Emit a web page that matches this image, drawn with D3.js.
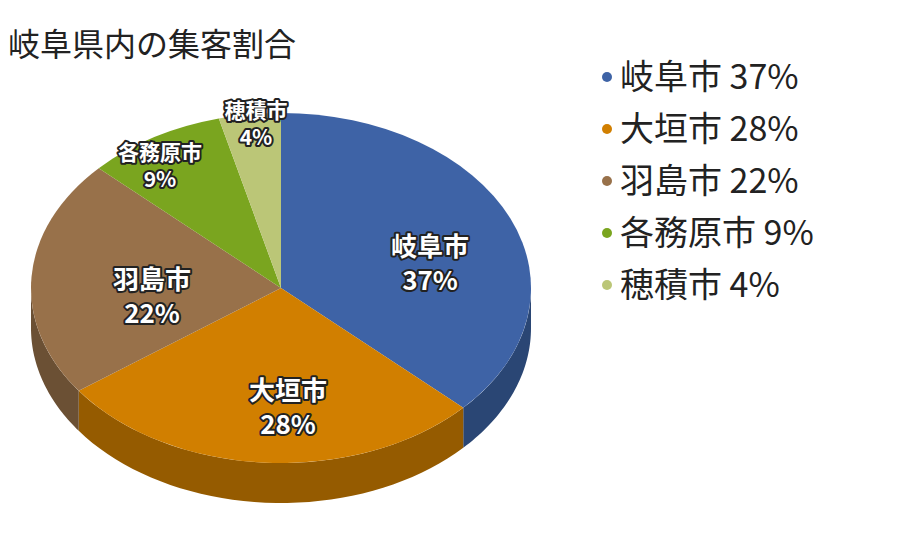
<!DOCTYPE html>
<html><head><meta charset="utf-8">
<script src="https://cdn.jsdelivr.net/npm/d3@7"></script>
<style>body{margin:0;background:#fff}</style></head>
<body><svg id="c" width="900" height="552"></svg>
<script>
const categories=["岐阜市","大垣市","羽島市","各務原市","穂積市"];
const values=[37,28,22,9,4];
const topColors=["#3e63a6","#d17f00","#98714a","#7aa51f","#bbc677"];
const sideColors=["#2a4674","#955b00","#6b5034","#56751a","#858c55"];
const labelPos=[[430,256,26],[288,400,26],[152,289,26],[160,160,21],[256,118,21]];

const svg=d3.select("#c");
const cx=281,cy=288,rx=250,ry=175,depth=40;
const pie=d3.pie().sort(null).value(d=>d)(values);
const pt=(a,dy=0)=>[cx+rx*Math.sin(a),cy-ry*Math.cos(a)+dy];
function sidePath(a0,a1){
  const s=Math.max(a0,Math.PI/2),e=Math.min(a1,3*Math.PI/2);
  if(e<=s) return null;
  const n=40,top=[],bot=[];
  for(let i=0;i<=n;i++){const a=s+(e-s)*i/n;top.push(pt(a));bot.push(pt(a,depth));}
  return "M"+top.map(p=>p.join(",")).join("L")+"L"+bot.reverse().map(p=>p.join(",")).join("L")+"Z";
}
pie.forEach((p,i)=>{const d=sidePath(p.startAngle,p.endAngle);if(d)svg.append("path").attr("d",d).attr("fill",sideColors[i]);});
const arc=d3.arc().innerRadius(0).outerRadius(rx);
svg.append("g").attr("transform",`translate(${cx},${cy}) scale(1,${ry/rx})`)
 .selectAll("path").data(pie).join("path").attr("d",arc).attr("fill",(d,i)=>topColors[i]);

const font="'Noto Sans CJK JP','Noto Sans',sans-serif";
pie.forEach((p,i)=>{
  const [x,y,fs]=labelPos[i];
  [categories[i],values[i]+"%"].forEach((t,j)=>{
    svg.append("text").attr("x",x).attr("y",y+j*fs*1.3).attr("text-anchor","middle")
     .attr("font-family",font).attr("font-size",fs).attr("font-weight","bold")
     .attr("fill","#fff").attr("stroke","#222").attr("stroke-width",4).attr("paint-order","stroke")
     .attr("stroke-linejoin","round").text(t);
  });
});
svg.append("text").attr("x",8).attr("y",56).attr("font-family",font).attr("font-size",32).attr("fill","#222").text("岐阜県内の集客割合");
categories.forEach((c,i)=>{
  const y=77+i*52;
  svg.append("circle").attr("cx",607).attr("cy",y).attr("r",5).attr("fill",topColors[i]);
  svg.append("text").attr("x",620).attr("y",y+12).attr("font-family",font).attr("font-size",34).attr("fill","#222").text(c+" "+values[i]+"%");
});
</script></body></html>
